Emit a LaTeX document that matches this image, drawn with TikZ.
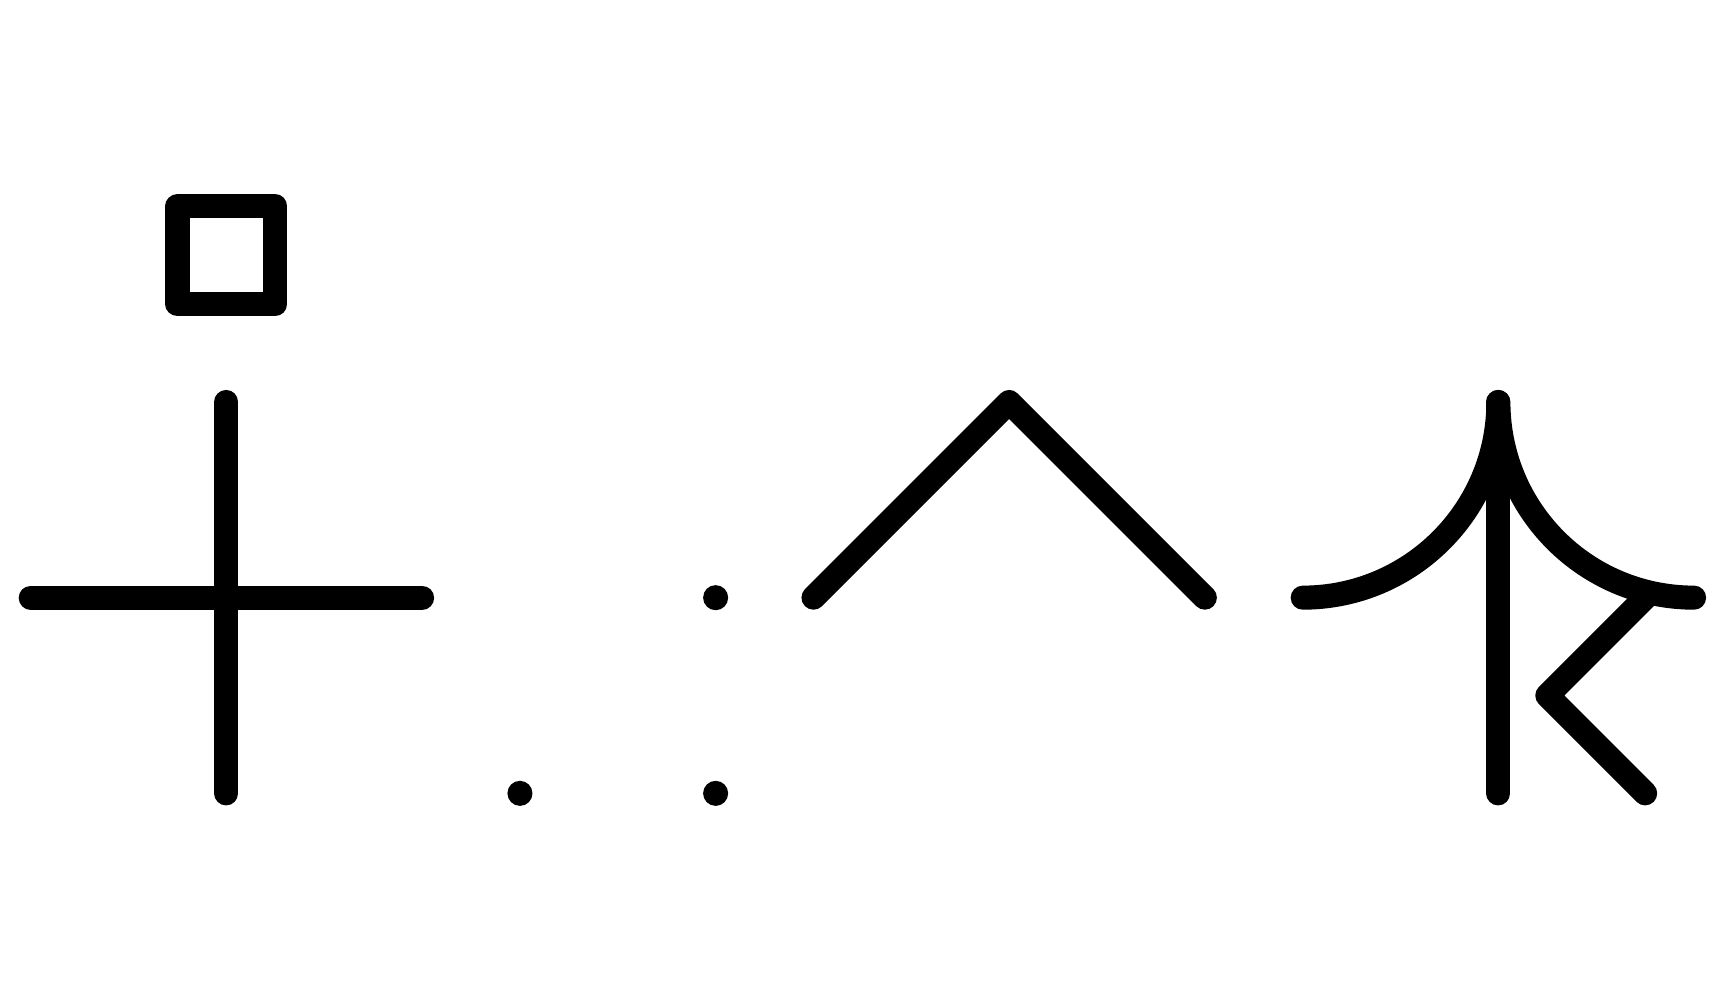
\documentclass[tikz,border=0pt]{standalone}
\usetikzlibrary{positioning}
\tikzset{
glyph/.style={line width=3.5pt, line cap=round, line join=round},
}
\begin{document}
\begin{tikzpicture}
    \useasboundingbox (-0.157,-2.053) rectangle (8.663,3.054);
    % box on top of the cross
    \draw[glyph] (0.75,1.5) rectangle (1.25,2);
    \coordinate (ct) at (1,1);
    \coordinate (cb) at (1,-1);
    \coordinate (cl) at (0,0);
    \coordinate (cr) at (2,0);
    \draw[glyph] (ct) -- (cb);
    \draw[glyph] (cl) -- (cr);
    % dots
    \foreach \x/\y in {3.5/0, 2.5/-1, 3.5/-1}
        \fill (\x,\y) circle[radius=0.064];
    % caret
    \coordinate (al) at (4,0);
    \coordinate (at) at (5,1);
    \coordinate (ar) at (6,0);
    \draw[glyph] (al) -- (at) -- (ar);
    % last sign
    \coordinate (st) at (7.5,1);
    \coordinate (sb) at (7.5,-1);
    \draw[glyph] (st) -- (sb);
    \draw[glyph] (6.5,0) arc[start angle=-90, end angle=0, radius=1]
        arc[start angle=180, end angle=270, radius=1];
    \coordinate (ka) at (8.25,0);
    \coordinate (kv) at (7.75,-0.5);
    \coordinate (kb) at (8.25,-1);
    \draw[glyph] (ka) -- (kv) -- (kb);
\end{tikzpicture}
\end{document}
